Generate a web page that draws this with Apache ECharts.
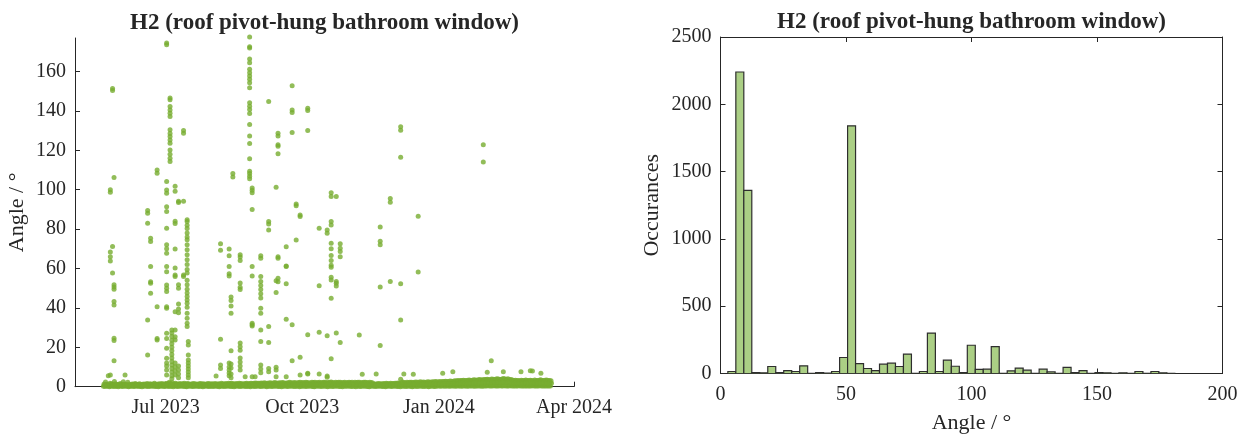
<!DOCTYPE html>
<html>
<head>
<meta charset="utf-8">
<script src="https://cdn.jsdelivr.net/npm/echarts@6/dist/echarts.min.js"></script>
<style>
  html, body { margin: 0; padding: 0; background: #ffffff; }
  #chart { width: 1250px; height: 440px; }
</style>
</head>
<body>
<div id="chart"></div>
<script>
// ---- Data ---------------------------------------------------------------

const chartTitle = 'H2 (roof pivot-hung bathroom window)';

// Opening sessions: timestamp of the session and the angles (deg) logged during it
const sessions = [
  ['2023-05-23 10:00', [5.6]],
  ['2023-05-24 19:00', [100.0, 98.7, 68.4, 66.0, 63.8, 5.9]],
  ['2023-05-26 07:00', [151.4, 150.3, 71.2, 57.7]],
  ['2023-05-27 07:00', [106.2, 51.7, 50.6, 49.5, 43.2, 41.5, 24.6, 23.4, 13.2]],
  ['2023-06-03 17:00', [5.9]],
  ['2023-06-18 22:00', [89.4, 88.0, 83.0, 33.9, 16.1]],
  ['2023-06-20 22:00', [75.3, 73.7, 61.0, 53.3, 52.5, 47.4]],
  ['2023-06-25 07:00', [110.0, 108.4, 40.6, 24.5, 23.7]],
  ['2023-07-01 17:00', [174.4, 173.6, 104.1, 99.9, 98.2, 91.4, 88.9, 80.4, 72.0, 70.0, 67.7, 61.0, 58.4, 51.6, 50.0, 48.3, 40.6, 39.8, 27.1, 24.5, 19.5, 14.4, 12.0, 10.5, 8.5, 6.0]],
  ['2023-07-04 00:00', [146.5, 145.6, 142.2, 140.5, 138.8, 137.1, 130.4, 128.5, 127.0, 125.2, 123.6, 120.2, 118.0, 116.0, 114.3]],
  ['2023-07-05 05:00', [28.8, 27.3, 25.5, 23.6, 21.8, 20.0, 18.3, 16.4, 14.6, 12.8, 11.0, 9.2, 7.4, 5.6, 4.0]],
  ['2023-07-07 10:00', [101.7, 99.2, 84.0, 82.8, 69.9, 60.2, 56.7, 55.9, 38.0, 28.8, 25.3, 23.7, 12.0, 10.0, 8.0, 6.0]],
  ['2023-07-09 17:00', [94.1, 93.5, 51.7, 50.0, 42.0, 39.5, 37.6, 10.5, 8.5, 6.5, 4.5]],
  ['2023-07-13 02:00', [130.0, 128.7, 94.1, 56.7, 55.9]],
  ['2023-07-15 12:00', [84.7, 83.9, 82.0, 80.3, 78.0, 76.0, 74.6, 72.0, 69.5, 67.0, 64.5, 62.0, 59.5, 57.7, 54.0, 51.7, 49.5, 47.5, 45.8, 44.0, 42.4, 40.3, 37.3, 34.8, 32.2, 30.5]],
  ['2023-07-16 07:00', [22.9, 21.2, 16.1, 13.6, 12.0, 10.5, 9.0, 7.5, 6.0, 4.5]],
  ['2023-08-04 00:00', [5.4]],
  ['2023-08-07 00:00', [72.6, 69.2, 24.1, 11.0, 9.3]],
  ['2023-08-12 19:00', [69.9, 66.5, 61.0, 57.3, 56.2, 12.0, 10.0, 8.5, 7.0, 5.5]],
  ['2023-08-14 02:00', [45.5, 43.7, 41.0, 37.3, 18.3, 11.5, 9.5, 6.5, 4.5]],
  ['2023-08-15 07:00', [108.2, 106.5]],
  ['2023-08-20 05:00', [67.0, 65.8, 64.0, 52.6, 50.5, 49.4, 22.2, 20.3, 18.5, 14.6, 12.5, 10.5, 8.5]],
  ['2023-08-23 14:00', [5.1]],
  ['2023-08-26 14:00', [177.5, 172.5, 171.9, 166.3, 164.5, 161.1, 159.4, 157.7, 156.0, 154.3, 151.8, 144.1, 142.4, 140.7, 138.7, 133.1, 127.2, 123.4, 115.7, 109.4, 108.2, 106.8, 105.5]],
  ['2023-08-28 07:00', [100.9, 99.7, 98.4, 89.9, 61.0, 56.2, 32.2, 31.4, 30.8, 5.1]],
  ['2023-08-30 07:00', [5.1]],
  ['2023-09-03 02:00', [66.5, 65.2, 55.9, 53.4, 51.4, 49.3, 47.2, 45.0, 39.8, 37.3, 28.8, 22.9, 11.0, 9.0, 7.1]],
  ['2023-09-08 10:00', [144.8, 83.8, 82.6, 79.6, 30.5, 22.4, 9.3, 7.6]],
  ['2023-09-13 10:00', [101.3, 53.8, 47.8, 9.9, 8.5, 5.1]],
  ['2023-09-14 17:00', [128.7, 127.3, 122.8, 122.0, 118.2, 66.0, 65.2, 55.0, 53.3]],
  ['2023-09-20 05:00', [71.1, 61.3, 61.0, 52.2, 34.3, 5.1]],
  ['2023-09-24 05:00', [152.7, 140.5, 139.2, 129.0, 31.4, 13.2]],
  ['2023-09-26 22:00', [92.8, 91.8, 74.5]],
  ['2023-09-29 14:00', [87.2, 86.4, 15.0, 6.0]],
  ['2023-10-04 17:00', [141.4, 140.2, 130.0, 26.4, 6.8, 6.5]],
  ['2023-10-12 10:00', [80.4, 51.2, 27.7, 6.5]],
  ['2023-10-17 19:00', [79.6, 77.9, 25.8, 5.4, 4.8]],
  ['2023-10-20 12:00', [98.5, 96.5, 83.8, 82.1, 72.8, 70.0, 66.6, 64.0, 61.7, 60.6, 55.5, 54.2, 44.9, 14.2]],
  ['2023-10-23 22:00', [96.5, 53.4, 52.5, 51.1, 27.3]],
  ['2023-10-26 14:00', [72.5, 70.3, 68.6, 66.0, 22.4]],
  ['2023-11-08 10:00', [26.2]],
  ['2023-11-10 10:00', [6.3]],
  ['2023-11-19 19:00', [6.5]],
  ['2023-11-22 12:00', [81.1, 73.8, 72.1, 50.6, 20.9]],
  ['2023-11-29 07:00', [95.5, 93.6, 53.4]],
  ['2023-12-06 07:00', [131.9, 130.2, 116.5, 52.2, 33.9, 3.8]],
  ['2023-12-08 10:00', [6.5]],
  ['2023-12-14 19:00', [6.3]],
  ['2023-12-18 02:00', [86.5, 58.2]],
  ['2024-01-03 14:00', [6.8]],
  ['2024-01-10 10:00', [7.6]],
  ['2024-01-30 22:00', [122.8, 114.1]],
  ['2024-02-02 14:00', [7.3]],
  ['2024-02-05 07:00', [13.2]],
  ['2024-02-13 10:00', [7.6]],
  ['2024-02-25 07:00', [7.6]],
  ['2024-03-02 14:00', [8.1]],
  ['2024-03-04 00:00', [8.0]],
  ['2024-03-09 17:00', [6.8]]
];

// Closed-window readings, one value per day from restStart, three times a day
const restStart = '2023-05-20 00:00';
const restNight = [
  0.2, 0.1, 0.3, 0.2, 0.0, 0.2, 0.3, 0.1, 0.2, 0.2, 0.0, 0.3,
  0.2, 0.1, 0.3, 0.2, 0.2, 0.0, 0.2, 0.3, 0.1, 0.2, 0.2, 0.3, 0.1, 0.2, 0.0, 0.2, 0.3, 0.2, 0.1, 0.2, 0.2, 0.3, 0.2, 0.1, 0.2, 0.0, 0.2, 0.3, 0.2, 0.1,
  0.2, 0.3, 0.1, 0.2, 0.2, 0.0, 0.3, 0.2, 0.1, 0.2, 0.3, 0.2, 0.2, 0.1, 0.0, 0.2, 0.3, 0.2, 0.1, 0.2, 0.2, 0.3, 0.1, 0.2, 0.2, 0.0, 0.2, 0.3, 0.2, 0.1, 0.2,
  0.2, 0.1, 0.3, 0.2, 0.2, 0.0, 0.2, 0.3, 0.1, 0.2, 0.2, 0.3, 0.2, 0.1, 0.2, 0.0, 0.2, 0.3, 0.2, 0.1, 0.2, 0.3, 0.2, 0.1, 0.2, 0.2, 0.0, 0.3, 0.2, 0.1, 0.2,
  0.3, 0.2, 0.1, 0.2, 0.3, 0.2, 0.0, 0.2, 0.3, 0.1, 0.2, 0.2, 0.3, 0.2, 0.1, 0.2, 0.0, 0.2, 0.3, 0.2, 0.1, 0.2, 0.3, 0.2, 0.2, 0.1, 0.2, 0.3, 0.0, 0.2,
  0.2, 0.3, 0.1, 0.2, 0.2, 0.3, 0.2, 0.1, 0.0, 0.2, 0.3, 0.2, 0.2, 0.1, 0.3, 0.2, 0.2, 0.0, 0.2, 0.3, 0.1, 0.2, 0.2, 0.3, 0.2, 0.1, 0.2, 0.0, 0.3, 0.2, 0.2,
  0.3, 0.2, 0.1, 0.2, 0.2, 0.0, 0.3, 0.2, 0.1, 0.2, 0.3, 0.2, 0.2, 0.1, 0.0, 0.2, 0.3, 0.2, 0.1, 0.2, 0.2, 0.3, 0.2, 0.1, 0.2, 0.0, 0.2, 0.3, 0.2, 0.1,
  0.2, 0.3, 0.2, 0.1, 0.2, 0.0, 0.3, 0.2, 0.2, 0.1, 0.3, 0.2, 0.2, 0.0, 0.2, 0.3, 0.1, 0.2, 0.3, 0.2, 0.2, 0.1, 0.3, 0.2, 0.0, 0.2, 0.3, 0.2, 0.1, 0.2, 0.3,
  0.3, 0.2, 0.4, 0.3, 0.2, 0.3, 0.4, 0.2, 0.3, 0.3, 0.4, 0.2, 0.3, 0.4, 0.3, 0.2, 0.4, 0.3, 0.3, 0.2, 0.4, 0.3, 0.4, 0.3, 0.2, 0.4, 0.3, 0.3, 0.4, 0.2, 0.3,
  0.4, 0.3, 0.5, 0.4, 0.3, 0.4, 0.5, 0.3, 0.4, 0.4, 0.5, 0.3, 0.4, 0.5, 0.4, 0.3, 0.4, 0.5, 0.4, 0.3, 0.4, 0.4, 0.3, 0.5, 0.4, 0.3, 0.4, 0.4, 0.3,
  0.4, 0.3, 0.4, 0.5, 0.3, 0.4, 0.4, 0.3, 0.5, 0.4, 0.3, 0.4, 0.4, 0.3, 0.4, 0.3
];
const restNoon = [
  1.4, 2.4, 1.1, 1.0, 1.8, 1.5, 1.2, 2.6, 1.4, 1.0, 1.3, 1.6,
  1.2, 2.5, 1.3, 1.0, 2.2, 0.9, 1.1, 1.4, 1.2, 1.6, 1.3, 1.2, 1.5, 1.1, 1.3, 1.4, 1.2, 1.6, 1.3, 1.5, 1.2, 1.4, 1.7, 1.3, 1.2, 1.5, 1.4, 1.6, 1.3, 1.5,
  1.5, 1.8, 2.2, 1.6, 2.0, 1.4, 1.7, 1.5, 1.3, 1.6, 1.4, 1.5, 1.7, 1.4, 1.6, 1.5, 1.3, 1.4, 1.6, 1.5, 1.4, 1.3, 1.5, 1.6, 1.4, 1.5, 1.3, 1.4, 1.6, 1.5, 1.4,
  1.5, 1.4, 1.6, 1.3, 1.5, 1.4, 1.7, 1.5, 1.4, 1.6, 1.5, 1.8, 1.6, 1.7, 1.5, 1.4, 1.6, 1.5, 1.7, 1.6, 1.5, 1.4, 1.6, 1.7, 1.5, 1.6, 1.8, 1.6, 1.7, 1.9, 1.7,
  1.8, 1.7, 1.9, 1.8, 2.0, 1.8, 1.7, 1.9, 2.0, 1.8, 1.9, 2.1, 1.9, 1.8, 2.0, 1.9, 2.1, 2.0, 1.8, 1.9, 2.0, 2.2, 2.0, 1.9, 2.1, 2.0, 1.9, 2.1, 2.2, 2.0,
  2.1, 2.0, 2.2, 2.1, 1.9, 2.0, 2.2, 2.1, 2.3, 2.0, 2.1, 2.2, 2.0, 2.1, 2.3, 2.2, 2.0, 2.1, 2.2, 2.4, 2.1, 2.0, 2.2, 2.1, 2.3, 2.2, 2.0, 2.1, 2.2, 2.0, 2.1,
  2.2, 2.1, 2.3, 2.0, 2.2, 2.1, 2.3, 2.2, 2.0, 2.1, 2.2, 2.3, 2.1, 2.0, 2.2, 2.1, 1.9, 1.2, 1.4, 1.5, 1.6, 1.5, 1.4, 1.6, 1.5, 1.7, 1.6, 1.5, 1.7, 1.6,
  1.6, 1.8, 1.7, 1.9, 1.8, 2.0, 2.4, 2.1, 2.0, 2.2, 2.1, 2.3, 2.2, 2.1, 2.3, 2.4, 2.2, 2.3, 2.5, 2.3, 2.4, 2.2, 2.3, 2.5, 2.4, 2.3, 2.5, 2.4, 2.6, 2.5, 2.4,
  2.6, 2.5, 2.7, 2.6, 2.8, 2.6, 2.7, 2.9, 2.8, 2.7, 3.0, 2.9, 3.1, 3.0, 3.2, 3.1, 3.3, 3.2, 3.1, 3.3, 3.4, 3.2, 3.3, 3.5, 3.4, 3.3, 3.5, 3.6, 3.4, 3.5, 3.7,
  3.6, 3.8, 3.7, 3.5, 3.9, 3.8, 3.6, 3.9, 4.0, 3.8, 3.7, 3.9, 4.1, 3.9, 3.8, 4.0, 3.7, 3.6, 3.4, 3.2, 3.3, 3.1, 3.2, 3.0, 3.3, 3.1, 3.2, 3.4, 3.2,
  3.1, 3.3, 3.2, 3.0, 3.4, 3.2, 3.1, 3.3, 3.5, 3.2, 3.1, 3.3, 3.4, 3.2, 3.1, 3.0
];
const restEvening = [
  0.9, 1.2, 0.7, 0.6, 1.0, 0.9, 0.7, 1.4, 0.8, 0.6, 0.8, 0.9,
  0.7, 1.3, 0.8, 0.6, 1.2, 0.5, 0.7, 0.8, 0.7, 0.9, 0.8, 0.7, 0.9, 0.6, 0.8, 0.8, 0.7, 0.9, 0.8, 0.9, 0.7, 0.8, 1.0, 0.8, 0.7, 0.9, 0.8, 0.9, 0.8, 0.9,
  0.9, 1.0, 1.2, 0.9, 1.1, 0.8, 1.0, 0.9, 0.8, 0.9, 0.8, 0.9, 1.0, 0.8, 0.9, 0.9, 0.8, 0.8, 0.9, 0.9, 0.8, 0.8, 0.9, 0.9, 0.8, 0.9, 0.8, 0.8, 0.9, 0.9, 0.8,
  0.9, 0.8, 0.9, 0.8, 0.9, 0.8, 1.0, 0.9, 0.8, 0.9, 0.9, 1.0, 0.9, 1.0, 0.9, 0.8, 0.9, 0.9, 1.0, 0.9, 0.9, 0.8, 0.9, 1.0, 0.9, 0.9, 1.0, 0.9, 1.0, 1.1, 1.0,
  1.0, 1.0, 1.1, 1.0, 1.1, 1.0, 1.0, 1.1, 1.1, 1.0, 1.1, 1.2, 1.1, 1.0, 1.1, 1.1, 1.2, 1.1, 1.0, 1.1, 1.1, 1.2, 1.1, 1.1, 1.2, 1.1, 1.1, 1.2, 1.2, 1.1,
  1.2, 1.1, 1.2, 1.2, 1.1, 1.1, 1.2, 1.2, 1.3, 1.1, 1.2, 1.2, 1.1, 1.2, 1.3, 1.2, 1.1, 1.2, 1.2, 1.3, 1.2, 1.1, 1.2, 1.2, 1.3, 1.2, 1.1, 1.2, 1.2, 1.1, 1.2,
  1.2, 1.2, 1.3, 1.1, 1.2, 1.2, 1.3, 1.2, 1.1, 1.2, 1.2, 1.3, 1.2, 1.1, 1.2, 1.2, 1.1, 0.8, 0.9, 0.9, 1.0, 0.9, 0.9, 1.0, 0.9, 1.0, 1.0, 0.9, 1.0, 1.0,
  1.0, 1.1, 1.0, 1.1, 1.1, 1.2, 1.3, 1.2, 1.2, 1.3, 1.2, 1.3, 1.3, 1.2, 1.3, 1.4, 1.3, 1.3, 1.4, 1.3, 1.4, 1.3, 1.3, 1.4, 1.4, 1.3, 1.4, 1.4, 1.5, 1.4, 1.4,
  1.5, 1.4, 1.5, 1.5, 1.6, 1.5, 1.5, 1.6, 1.6, 1.5, 1.7, 1.6, 1.7, 1.7, 1.8, 1.7, 1.8, 1.8, 1.7, 1.8, 1.9, 1.8, 1.8, 1.9, 1.9, 1.8, 1.9, 2.0, 1.9, 1.9, 2.0,
  2.0, 2.1, 2.0, 1.9, 2.1, 2.1, 2.0, 2.1, 2.2, 2.1, 2.0, 2.1, 2.2, 2.1, 2.1, 2.2, 2.0, 2.0, 1.9, 1.8, 1.8, 1.7, 1.8, 1.7, 1.8, 1.7, 1.8, 1.9, 1.8,
  1.7, 1.8, 1.8, 1.7, 1.9, 1.8, 1.7, 1.8, 1.9, 1.8, 1.7, 1.8, 1.9, 1.8, 1.7, 1.7
];

// Histogram of opening angles
const binStart = -0.25;   // deg, left edge of first bin
const binWidth = 3.18;    // deg
const binCounts = [
  0, 15, 2240, 1360, 7, 5, 52, 7, 22, 15,
  57, 2, 7, 3, 15, 119, 1840, 74, 37, 22,
  69, 77, 52, 144, 2, 15, 300, 15, 99, 54,
  7, 210, 30, 32, 200, 1, 20, 40, 25, 2,
  32, 12, 2, 45, 7, 22, 2, 7, 5, 2,
  5, 2, 15, 2, 15, 5, 2
];

// Axis ticks
const dateRange = ['2023-05-01 00:00', '2024-04-01 00:00'];
const dateTicks = ['2023-07-01 00:00', '2023-10-01 00:00', '2024-01-01 00:00', '2024-04-01 00:00'];
const dateTickLabels = ['Jul 2023', 'Oct 2023', 'Jan 2024', 'Apr 2024'];
const angleTicks = [0, 20, 40, 60, 80, 100, 120, 140, 160];

// ---- Helpers -------------------------------------------------------------

function toStamp(s) {
  const [d, t] = s.split(' ');
  const [y, m, day] = d.split('-').map(Number);
  const [hh, mm] = (t || '00:00').split(':').map(Number);
  return new Date(y, m - 1, day, hh, mm).getTime();
}

const DAY = 86400000, HOUR = 3600000;
const tickStamps = dateTicks.map(toStamp);

const openingPoints = [];
sessions.forEach(([t, angles]) => {
  const ts = toStamp(t);
  angles.forEach(a => openingPoints.push([ts, a]));
});

const restPoints = [];
const rest0 = toStamp(restStart);
[[restNight, 3], [restNoon, 13], [restEvening, 20]].forEach(([arr, h]) => {
  arr.forEach((v, i) => restPoints.push([rest0 + i * DAY + h * HOUR, v]));
});

const bins = binCounts.map((c, i) => [binStart + i * binWidth, binStart + (i + 1) * binWidth, c]);

// ---- Styling ---------------------------------------------------------------

const FONT = '"Liberation Serif", "Times New Roman", serif';
const TEXT = '#262626';
const AXIS = '#262626';
const GREEN = '#77ac30';

const labelStyle = { fontFamily: FONT, fontSize: 20, color: TEXT };
const nameStyle = { fontFamily: FONT, fontSize: 22, color: TEXT };
const lineStyle = { color: AXIS, width: 1 };

const chart = echarts.init(document.getElementById('chart'), null, { renderer: 'canvas' });

chart.setOption({
  animation: false,
  backgroundColor: '#ffffff',
  graphic: [
    { type: 'text', x: 324.5, y: 23, style: { text: chartTitle, font: 'bold 23px ' + FONT, fill: TEXT, align: 'center', verticalAlign: 'middle' } },
    { type: 'text', x: 971.5, y: 22, style: { text: chartTitle, font: 'bold 23px ' + FONT, fill: TEXT, align: 'center', verticalAlign: 'middle' } }
  ],
  grid: [
    { left: 75, top: 38, width: 499, height: 348.7, outerBoundsMode: 'none' },
    { left: 720.5, top: 37, width: 502, height: 336.5, outerBoundsMode: 'none' }
  ],
  xAxis: [
    {
      // time stamps (ms) on a linear axis, labelled at the quarter starts
      gridIndex: 0, type: 'value', scale: true,
      min: toStamp(dateRange[0]), max: toStamp(dateRange[1]),
      axisLine: { show: true, onZero: false, lineStyle },
      axisTick: { show: true, inside: true, length: 5, customValues: tickStamps, lineStyle },
      axisLabel: {
        ...labelStyle, margin: 11, customValues: tickStamps, hideOverlap: false,
        formatter: v => {
          const k = tickStamps.findIndex(s => Math.abs(s - v) < HOUR);
          return k >= 0 ? dateTickLabels[k] : '';
        }
      },
      splitLine: { show: false }
    },
    {
      gridIndex: 1, type: 'value', min: 0, max: 200, interval: 50,
      axisLine: { show: true, onZero: false, lineStyle },
      axisTick: { show: true, inside: true, length: 5, lineStyle },
      axisLabel: { ...labelStyle, margin: 11, formatter: v => String(v) },
      splitLine: { show: false },
      name: 'Angle / °', nameLocation: 'middle', nameGap: 39, nameTextStyle: nameStyle
    },
    {
      gridIndex: 1, type: 'value', position: 'top', min: 0, max: 200, interval: 50,
      axisLine: { show: true, onZero: false, lineStyle },
      axisTick: { show: true, inside: true, length: 5, lineStyle },
      axisLabel: { show: false },
      splitLine: { show: false }
    }
  ],
  yAxis: [
    {
      gridIndex: 0, type: 'value', min: 0, max: 177,
      axisLine: { show: true, onZero: false, lineStyle },
      axisTick: { show: true, inside: true, length: 5, customValues: angleTicks, lineStyle },
      axisLabel: { ...labelStyle, margin: 9, customValues: angleTicks },
      splitLine: { show: false },
      name: 'Angle / °', nameLocation: 'middle', nameGap: 47, nameTextStyle: nameStyle
    },
    {
      gridIndex: 1, type: 'value', min: 0, max: 2500, interval: 500,
      axisLine: { show: true, onZero: false, lineStyle },
      axisTick: { show: true, inside: true, length: 5, lineStyle },
      axisLabel: { ...labelStyle, margin: 9, formatter: v => String(v) },
      splitLine: { show: false },
      name: 'Occurances', nameLocation: 'middle', nameGap: 57, nameTextStyle: nameStyle
    },
    {
      gridIndex: 1, type: 'value', position: 'right', min: 0, max: 2500, interval: 500,
      axisLine: { show: true, onZero: false, lineStyle },
      axisTick: { show: true, inside: true, length: 5, lineStyle },
      axisLabel: { show: false },
      splitLine: { show: false }
    }
  ],
  series: [
    {
      name: 'Closed', type: 'scatter', xAxisIndex: 0, yAxisIndex: 0,
      data: restPoints, symbol: 'circle', symbolSize: 5,
      itemStyle: { color: GREEN }, clip: false, large: false
    },
    {
      name: 'Open', type: 'scatter', xAxisIndex: 0, yAxisIndex: 0,
      data: openingPoints, symbol: 'circle', symbolSize: 5,
      itemStyle: { color: GREEN }, clip: false
    },
    {
      name: 'Histogram', type: 'custom', xAxisIndex: 1, yAxisIndex: 1,
      data: bins, encode: { x: [0, 1], y: 2 }, clip: true,
      renderItem: (params, api) => {
        const top = api.coord([api.value(0), api.value(2)]);
        const bottom = api.coord([api.value(1), 0]);
        return {
          type: 'rect',
          shape: { x: top[0], y: top[1], width: bottom[0] - top[0], height: bottom[1] - top[1] },
          style: { fill: '#abcf85', stroke: '#2e2e2e', lineWidth: 1.2 }
        };
      }
    }
  ]
});
</script>
</body>
</html>
